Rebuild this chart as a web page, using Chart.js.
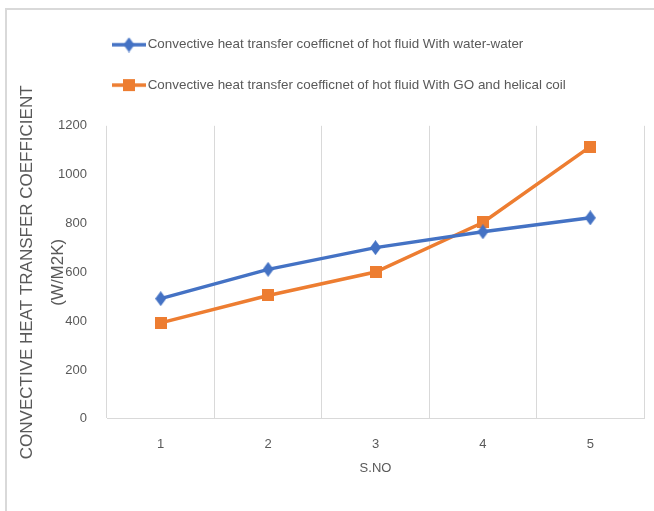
<!DOCTYPE html>
<html>
<head>
<meta charset="utf-8">
<script src="https://cdn.jsdelivr.net/npm/chart.js@4.4.0/dist/chart.umd.min.js"></script>
<style>
  html, body { margin: 0; padding: 0; background: #fff; }
  #wrap { position: relative; width: 654px; height: 511px; }
  #frame { position: absolute; left: 5px; top: 8px; right: 0; bottom: 0; border-left: 2px solid #d9d9d9; border-top: 2px solid #d9d9d9; }
  #grafico { position: absolute; left: 0; top: 0; }
</style>
</head>
<body>
<div id="wrap">
  <div id="frame"></div>
  <canvas id="grafico" width="654" height="511"></canvas>
</div>
<script>
// Datos del grafico
const categorias = ['1', '2', '3', '4', '5'];
const aguaAgua = [492, 612, 701, 766, 823];
const goHelicoidal = [393, 505, 601, 804, 1115];
const nombreSerie1 = 'Convective heat transfer coefficnet of hot fluid With water-water';
const nombreSerie2 = 'Convective heat transfer coefficnet of hot fluid With GO and helical coil';
const tituloY = ['CONVECTIVE HEAT TRANSFER COEFFICIENT', '(W/M2K)'];
const tituloX = 'S.NO';

const AZUL = '#4472C4';
const NARANJA = '#ED7D31';
const GRIS = '#595959';
const REJILLA = '#d9d9d9';
const FUENTE = '"Liberation Sans", Arial, sans-serif';

// Marcadores dibujados a mano (rombo alto y cuadrado)
function marcadorRombo(color) {
    const c = document.createElement('canvas');
    c.width = 11; c.height = 15;
    const g = c.getContext('2d');
    g.fillStyle = color;
    g.beginPath();
    g.moveTo(5.5, 0); g.lineTo(11, 7.5); g.lineTo(5.5, 15); g.lineTo(0, 7.5);
    g.closePath();
    g.fill();
    return c;
}
function marcadorCuadro(color) {
    const c = document.createElement('canvas');
    c.width = 12; c.height = 12;
    const g = c.getContext('2d');
    g.fillStyle = color;
    g.fillRect(0, 0, 12, 12);
    return c;
}
// Simbolo de leyenda: linea + marcador
function simboloLeyenda(color, marcador) {
    const c = document.createElement('canvas');
    c.width = 34; c.height = 16;
    const g = c.getContext('2d');
    g.strokeStyle = color;
    g.lineWidth = 3.5;
    g.beginPath();
    g.moveTo(0, 8); g.lineTo(34, 8);
    g.stroke();
    g.drawImage(marcador, 17 - marcador.width / 2, 8 - marcador.height / 2);
    return c;
}

const rombo = marcadorRombo(AZUL);
const cuadro = marcadorCuadro(NARANJA);
const simbolos = [simboloLeyenda(AZUL, rombo), simboloLeyenda(NARANJA, cuadro)];

// Ajustes de la leyenda: espacio extra debajo y corrimiento a la izquierda
const ajusteLeyenda = {
    id: 'ajusteLeyenda',
    beforeLayout(chart) {
        const legend = chart.legend;
        if (legend && !legend._parcheado) {
            const fitOrig = legend.fit;
            legend.fit = function() {
                fitOrig.call(this);
                this.height += 24;
            };
            legend._parcheado = true;
        }
    },
    afterLayout(chart) {
        const legend = chart.legend;
        if (legend) {
            legend.left -= 17;
            legend.right -= 17;
        }
    }
};

const ctx = document.getElementById('grafico').getContext('2d');
const myChart = new Chart(ctx, {
    type: 'line',
    data: {
        labels: categorias,
        datasets: [{
            label: nombreSerie1,
            data: aguaAgua,
            borderColor: AZUL,
            backgroundColor: AZUL,
            borderWidth: 3.5,
            pointStyle: rombo,
            tension: 0
        }, {
            label: nombreSerie2,
            data: goHelicoidal,
            borderColor: NARANJA,
            backgroundColor: NARANJA,
            borderWidth: 3.5,
            pointStyle: cuadro,
            tension: 0
        }]
    },
    options: {
        responsive: false,
        animation: false,
        layout: { padding: { left: 6, right: 10, top: 11, bottom: 35 } },
        font: { family: FUENTE },
        plugins: {
            tooltip: { enabled: false },
            legend: {
                display: true,
                position: 'top',
                align: 'start',
                fullSize: false,
                labels: {
                    usePointStyle: true,
                    pointStyleWidth: 24,
                    boxHeight: 16,
                    padding: 27,
                    color: GRIS,
                    font: { size: 13.4, family: FUENTE },
                    generateLabels: function(chart) {
                        return chart.data.datasets.map((ds, i) => ({
                            text: ds.label,
                            fontColor: GRIS,
                            pointStyle: simbolos[i],
                            datasetIndex: i,
                            lineWidth: 0,
                            hidden: false
                        }));
                    }
                }
            }
        },
        scales: {
            x: {
                offset: true,
                grid: { display: true, offset: true, color: REJILLA, drawTicks: false },
                border: { display: true, color: REJILLA },
                ticks: { color: GRIS, padding: 18, font: { size: 13, family: FUENTE } },
                title: {
                    display: true,
                    text: tituloX,
                    color: GRIS,
                    padding: { top: -10, bottom: 0 },
                    font: { size: 13, family: FUENTE }
                }
            },
            y: {
                min: 0,
                max: 1200,
                grid: { display: false },
                border: { display: false },
                afterFit: function(scale) { scale.width = 101; },
                ticks: {
                    stepSize: 200,
                    color: GRIS,
                    padding: 12,
                    font: { size: 13, family: FUENTE },
                    callback: function(v) { return String(v); }
                },
                title: {
                    display: true,
                    text: tituloY,
                    color: GRIS,
                    padding: { top: 6, bottom: 6 },
                    font: { size: 17, lineHeight: 1.8, family: FUENTE }
                }
            }
        }
    },
    plugins: [ajusteLeyenda]
});
</script>
</body>
</html>
